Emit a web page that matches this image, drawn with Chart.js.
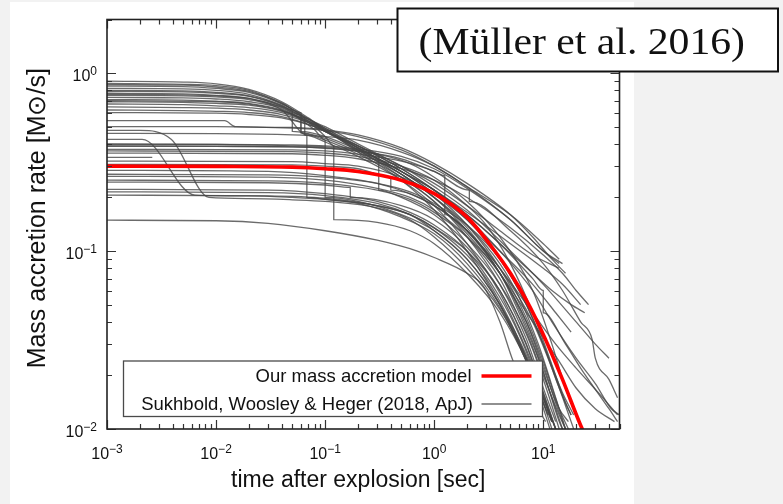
<!DOCTYPE html>
<html>
<head>
<meta charset="utf-8">
<script src="https://cdn.jsdelivr.net/npm/chart.js@4.4.0/dist/chart.umd.min.js"></script>
<style>
  html,body{margin:0;padding:0;background:#f2f2f2;}
  canvas{display:block;}
</style>
</head>
<body>
<canvas id="c" width="783" height="504"></canvas>
<script>
// ---------------- DATA ----------------
const modelTimes = [0.001, 0.01, 0.05, 0.1, 0.2, 0.5, 1, 2, 3.6, 5, 7, 10, 15, 22, 27];
const modelRates = [0.3, 0.299, 0.296, 0.29, 0.28, 0.25, 0.21, 0.155, 0.1, 0.075, 0.053, 0.034, 0.019, 0.0105, 0.008];

// Sukhbold, Woosley & Heger (2018) curves: [time (s), rate (Msun/s)]
const sukhboldTop = [
  [[0.001,0.90],[0.005,0.89],[0.01,0.87],[0.02,0.81],[0.04,0.69],[0.07,0.56],[0.1,0.48],[0.2,0.37],[0.5,0.27],[1,0.2],[2,0.13],[4,0.075],[7,0.038],[10,0.021],[14,0.011],[15,0.01]],
  [[0.001,0.875],[0.005,0.865],[0.01,0.85],[0.02,0.8],[0.04,0.68],[0.06,0.6],[0.06,0.46],[0.1,0.42],[0.2,0.35],[0.5,0.26],[1,0.19],[2,0.12],[4,0.065],[7,0.032],[10,0.017],[13,0.011]],
  [[0.001,0.86],[0.005,0.855],[0.01,0.835],[0.02,0.79],[0.04,0.675],[0.07,0.55],[0.1,0.49],[0.2,0.39],[0.5,0.29],[1,0.22],[2,0.16],[4,0.11],[8,0.075],[12,0.06],[18,0.05],[24,0.045]],
  [[0.001,0.845],[0.005,0.84],[0.01,0.82],[0.02,0.78],[0.04,0.67],[0.08,0.53],[0.1,0.5],[0.2,0.4],[0.5,0.3],[1,0.24],[2,0.18],[4,0.13],[8,0.095],[14,0.08]],
  [[0.001,0.82],[0.005,0.815],[0.01,0.8],[0.02,0.76],[0.04,0.66],[0.05,0.62],[0.05,0.47],[0.1,0.43],[0.2,0.36],[0.5,0.27],[1,0.2],[2,0.14],[4,0.085],[6,0.055],[9,0.03],[13,0.015],[16,0.01]],
  [[0.001,0.80],[0.005,0.795],[0.01,0.78],[0.02,0.745],[0.04,0.655],[0.07,0.54],[0.1,0.48],[0.2,0.36],[0.5,0.25],[1,0.17],[2,0.1],[4,0.05],[7,0.024],[10,0.014],[12,0.011]],
  [[0.001,0.79],[0.005,0.785],[0.01,0.77],[0.02,0.74],[0.04,0.65],[0.07,0.55],[0.1,0.49],[0.2,0.38],[0.5,0.28],[1,0.22],[2,0.165],[5,0.11],[10,0.08],[15,0.065],[22,0.05]],
  [[0.001,0.77],[0.005,0.765],[0.01,0.75],[0.02,0.72],[0.04,0.64],[0.065,0.56],[0.065,0.45],[0.1,0.41],[0.2,0.34],[0.5,0.25],[1,0.18],[2,0.11],[4,0.058],[7,0.028],[10,0.016],[13,0.01]],
  [[0.001,0.76],[0.005,0.755],[0.01,0.745],[0.02,0.72],[0.04,0.645],[0.06,0.58],[0.06,0.47],[0.1,0.44],[0.2,0.37],[0.5,0.28],[1,0.21],[2,0.14],[4,0.08],[7,0.042],[10,0.024],[14,0.013],[17,0.01]],
  [[0.001,0.75],[0.005,0.745],[0.01,0.735],[0.02,0.71],[0.04,0.62],[0.068,0.45],[0.068,0.2],[0.1,0.195],[0.2,0.185],[0.5,0.155],[1,0.125],[2,0.085],[4,0.048],[7,0.024],[10,0.014],[12,0.01]],
  [[0.001,0.73],[0.005,0.725],[0.01,0.715],[0.02,0.69],[0.04,0.63],[0.08,0.48],[0.1,0.42],[0.1,0.2],[0.2,0.19],[0.5,0.16],[1,0.13],[2,0.09],[4,0.05],[7,0.025],[10,0.015],[13,0.01]],
  [[0.001,0.71],[0.005,0.705],[0.01,0.695],[0.02,0.675],[0.04,0.62],[0.08,0.5],[0.1,0.44],[0.12,0.39],[0.12,0.15],[0.3,0.145],[0.6,0.13],[1,0.11],[2,0.075],[4,0.045],[7,0.024],[9,0.016],[11.5,0.01]],
  [[0.001,0.70],[0.01,0.69],[0.02,0.67],[0.04,0.615],[0.08,0.515],[0.1,0.475],[0.2,0.39],[0.5,0.29],[1,0.22],[2,0.155],[4,0.1],[8,0.06],[12,0.04],[20,0.025],[30,0.018],[42,0.013],[50,0.012]],
  [[0.001,0.69],[0.005,0.685],[0.01,0.675],[0.02,0.66],[0.04,0.61],[0.08,0.52],[0.1,0.48],[0.2,0.38],[0.5,0.28],[1,0.21],[2,0.15],[4,0.1],[8,0.065],[13,0.045],[18,0.035]],
  [[0.001,0.67],[0.005,0.665],[0.01,0.655],[0.02,0.64],[0.04,0.6],[0.08,0.51],[0.1,0.47],[0.2,0.37],[0.5,0.26],[1,0.19],[2,0.125],[4,0.075],[8,0.04],[14,0.024],[20,0.017],[30,0.013],[45,0.011]],
  [[0.001,0.645],[0.005,0.64],[0.01,0.635],[0.02,0.62],[0.04,0.585],[0.08,0.51],[0.1,0.47],[0.2,0.38],[0.5,0.28],[1,0.22],[2,0.16],[4,0.11],[8,0.07],[10,0.06],[10,0.045],[16,0.03],[22,0.022],[40,0.013],[48,0.011]],
  [[0.001,0.62],[0.005,0.615],[0.01,0.61],[0.02,0.6],[0.04,0.57],[0.08,0.5],[0.1,0.47],[0.2,0.39],[0.5,0.3],[1,0.23],[2,0.17],[5,0.1],[10,0.065],[20,0.04],[30,0.03],[40,0.025]],
  [[0.001,0.60],[0.01,0.595],[0.02,0.585],[0.04,0.56],[0.08,0.5],[0.1,0.47],[0.2,0.38],[0.5,0.27],[1,0.2],[2,0.135],[4,0.075],[7,0.04],[10,0.022],[14,0.013],[17,0.011]]
];

const sukhboldMid = [
  [[0.001,0.54],[0.012,0.54],[0.015,0.5],[0.05,0.495],[0.1,0.48],[0.2,0.45],[0.5,0.38],[1,0.31],[2,0.24],[5,0.16],[8,0.12],[12,0.09],[16,0.075]],
  [[0.001,0.50],[0.01,0.5],[0.05,0.49],[0.1,0.475],[0.2,0.44],[0.5,0.37],[1,0.3],[2,0.23],[5,0.15],[10,0.1],[15,0.085]],
  [[0.001,0.476],[0.002,0.476],[0.0039,0.424],[0.0086,0.2],[0.02,0.197],[0.05,0.194],[0.1,0.19],[0.3,0.175],[0.6,0.15],[1,0.12],[2,0.08],[4,0.047],[7,0.025],[10,0.015],[12,0.011]],
  [[0.001,0.458],[0.01,0.457],[0.05,0.45],[0.1,0.44],[0.2,0.42],[0.5,0.36],[1,0.3],[2,0.23],[5,0.16],[10,0.11],[14,0.09]],
  [[0.001,0.424],[0.0021,0.424],[0.0064,0.206],[0.02,0.204],[0.05,0.2],[0.1,0.195],[0.3,0.18],[0.6,0.16],[1,0.13],[2,0.09],[4,0.05],[7,0.026],[10,0.015],[13,0.01]],
  [[0.001,0.40],[0.05,0.395],[0.1,0.39],[0.2,0.375],[0.5,0.34],[1,0.29],[2,0.225],[5,0.15],[10,0.1],[14,0.085]],
  [[0.001,0.398],[0.01,0.397],[0.05,0.39],[0.1,0.385],[0.2,0.37],[0.31,0.35],[0.31,0.22],[0.5,0.2],[1,0.16],[2,0.11],[4,0.065],[7,0.035],[10,0.02],[14,0.012],[16,0.01]],
  [[0.001,0.39],[0.05,0.385],[0.1,0.378],[0.3,0.35],[0.6,0.31],[1,0.26],[2,0.19],[4,0.12],[8,0.06],[12,0.03],[16,0.017],[20,0.012]],
  [[0.001,0.388],[0.01,0.387],[0.05,0.385],[0.1,0.38],[0.2,0.365],[0.5,0.33],[1,0.28],[1.25,0.265],[1.25,0.16],[2,0.13],[4,0.08],[8,0.045],[13,0.03],[20,0.022],[32,0.016],[48,0.012]],
  [[0.001,0.373],[0.05,0.37],[0.1,0.365],[0.2,0.35],[0.5,0.32],[1,0.28],[2.1,0.22],[2.1,0.19],[5,0.13],[10,0.085],[15,0.06],[22,0.04],[28,0.032],[30,0.025],[40,0.019],[48,0.015]],
  [[0.001,0.365],[0.05,0.362],[0.1,0.355],[0.2,0.34],[0.5,0.3],[1,0.25],[2,0.18],[3,0.14],[5,0.085],[8,0.045],[12,0.023],[16,0.014],[18,0.012]],
  [[0.001,0.355],[0.05,0.352],[0.1,0.345],[0.2,0.33],[0.5,0.29],[1,0.25],[2,0.2],[5,0.135],[10,0.095],[15,0.075],[20,0.06],[26,0.05]],
  [[0.001,0.336],[0.0026,0.336]]
];

const sukhboldLow = [
  [[0.001,0.32],[0.05,0.318],[0.1,0.31],[0.2,0.3],[0.5,0.26],[1,0.21],[2,0.15],[4,0.09],[7,0.05],[10,0.03],[15,0.016],[19,0.012]],
  [[0.001,0.307],[0.05,0.305],[0.1,0.3],[0.2,0.29],[0.4,0.26],[0.4,0.22],[1,0.18],[2,0.13],[4,0.08],[8,0.04],[12,0.022],[18,0.011],[19,0.01]],
  [[0.001,0.284],[0.03,0.28],[0.1,0.265],[0.3,0.24],[0.6,0.21],[1,0.18],[2,0.13],[4,0.075],[6,0.045],[9,0.025],[12,0.015],[15,0.01]],
  [[0.001,0.27],[0.03,0.268],[0.1,0.26],[0.3,0.24],[0.6,0.215],[1,0.185],[2,0.14],[4,0.09],[7,0.05],[10,0.03],[14,0.017],[18,0.012]],
  [[0.001,0.263],[0.03,0.26],[0.1,0.25],[0.3,0.225],[0.6,0.2],[1,0.17],[2,0.12],[4,0.07],[6,0.042],[8,0.028],[11,0.016],[14,0.01]],
  [[0.001,0.25],[0.03,0.248],[0.1,0.24],[0.3,0.22],[0.6,0.195],[1,0.165],[2,0.12],[4,0.075],[7,0.04],[10,0.023],[13,0.014],[16,0.01]],
  [[0.001,0.244],[0.03,0.242],[0.1,0.235],[0.17,0.228],[0.17,0.2],[0.5,0.18],[1,0.15],[2,0.105],[4,0.06],[6,0.037],[8,0.024],[10,0.016],[13,0.01]],
  [[0.001,0.222],[0.03,0.22],[0.1,0.21],[0.3,0.19],[0.6,0.165],[1,0.14],[2,0.1],[4,0.055],[6,0.034],[8,0.022],[10,0.015],[12,0.011]],
  [[0.001,0.215],[0.03,0.213],[0.1,0.205],[0.3,0.185],[0.6,0.16],[1,0.135],[2,0.1],[4,0.06],[7,0.03],[9,0.019],[12,0.011]],
  [[0.001,0.206],[0.03,0.204],[0.1,0.198],[0.3,0.18],[0.6,0.16],[1,0.135],[2,0.095],[3,0.07],[5,0.04],[7,0.025],[9,0.017],[11,0.012]],
  [[0.001,0.149],[0.01,0.148],[0.03,0.143],[0.1,0.13],[0.3,0.115],[0.7,0.1],[1,0.092],[2,0.075],[2.85,0.063],[4,0.04],[5.3,0.024],[7,0.017],[10.5,0.011]]
];

const xTickExponents = [-3, -2, -1, 0, 1];
const yTickExponents = [-2, -1, 0];
const legendLabels = ['Our mass accretion model', 'Sukhbold, Woosley & Heger (2018, ApJ)'];
const xTitle = 'time after explosion [sec]';
const yTitle = 'Mass accretion rate [M\u2299/s]';
const boxTitle = '(M\u00fcller et al. 2016)';

// ---------------- STYLE ----------------
const GRAY = 'rgba(70,70,70,0.8)';
const RED = '#ff0000';
const SANS = '"Liberation Sans", Arial, sans-serif';

const datasets = [{
  label: legendLabels[0],
  data: modelTimes.map((t, i) => ({x: t, y: modelRates[i]})),
  borderColor: RED, borderWidth: 3.6, pointRadius: 0, fill: false,
  cubicInterpolationMode: 'monotone'
}];
[...sukhboldTop, ...sukhboldMid, ...sukhboldLow].forEach(c => {
  datasets.push({
    label: legendLabels[1],
    data: c.map(p => ({x: p[0], y: p[1]})),
    borderColor: GRAY, borderWidth: 1.3, pointRadius: 0, fill: false,
    cubicInterpolationMode: 'monotone'
  });
});

function powLabel(ctx, exp, x, y, mode) {
  const base = '10', e = (exp < 0 ? '\u2212' : '') + Math.abs(exp);
  ctx.font = '16px ' + SANS;
  const wb = ctx.measureText(base).width;
  ctx.font = '12px ' + SANS;
  const we = ctx.measureText(e).width;
  const tot = wb + we;
  let sx, by, ey;
  if (mode === 'x') { sx = x - tot / 2; by = y + 29.5; ey = y + 24; }
  else { sx = x - tot; by = y + 7.5; ey = y + 2; }
  ctx.textAlign = 'left';
  ctx.font = '16px ' + SANS; ctx.fillText(base, sx, by);
  ctx.font = '12px ' + SANS; ctx.fillText(e, sx + wb, ey);
}

const deco = {
  id: 'deco',
  beforeDraw(chart) {
    const c = chart.ctx;
    c.save(); c.fillStyle = '#ffffff'; c.fillRect(10, 2, 624, 502); c.restore();
  },
  afterDatasetsDraw(chart) {
    const ctx = chart.ctx, a = chart.chartArea, xs = chart.scales.x, ys = chart.scales.y;
    ctx.save();
    // legend box
    const lx0 = a.left + 16.5, lx1 = a.left + 435.5, ly0 = a.bottom - 68, ly1 = a.bottom - 12.5;
    ctx.fillStyle = '#fff'; ctx.fillRect(lx0, ly0, lx1 - lx0, ly1 - ly0);
    ctx.strokeStyle = '#4a4a4a'; ctx.lineWidth = 1.3; ctx.strokeRect(lx0, ly0, lx1 - lx0, ly1 - ly0);
    ctx.fillStyle = '#111'; ctx.font = '18.5px ' + SANS; ctx.textAlign = 'right'; ctx.textBaseline = 'alphabetic';
    ctx.fillText(legendLabels[0], lx1 - 71, ly0 + 21);
    ctx.fillText(legendLabels[1], lx1 - 69.5, ly0 + 49);
    ctx.lineCap = 'butt';
    ctx.strokeStyle = RED; ctx.lineWidth = 3.6;
    ctx.beginPath(); ctx.moveTo(lx1 - 61, ly0 + 15); ctx.lineTo(lx1 - 11, ly0 + 15); ctx.stroke();
    ctx.strokeStyle = GRAY; ctx.lineWidth = 1.3;
    ctx.beginPath(); ctx.moveTo(lx1 - 61, ly0 + 43); ctx.lineTo(lx1 - 11, ly0 + 43); ctx.stroke();

    // ticks (inward, all sides)
    ctx.strokeStyle = '#333'; ctx.lineWidth = 1.2;
    ctx.beginPath();
    for (let d = -3; d <= 1; d++) {
      for (let m = 1; m <= 9; m++) {
        const v = m * Math.pow(10, d);
        if (v > xs.max * 1.0001) break;
        const px = Math.round(xs.getPixelForValue(v)) + 0.5;
        const L = m === 1 ? 9 : 5;
        ctx.moveTo(px, a.bottom); ctx.lineTo(px, a.bottom - L);
        ctx.moveTo(px, a.top); ctx.lineTo(px, a.top + L);
      }
    }
    for (let d = -2; d <= 0; d++) {
      for (let m = 1; m <= 9; m++) {
        const v = m * Math.pow(10, d);
        if (v > ys.max * 1.0001) break;
        const py = Math.round(ys.getPixelForValue(v)) + 0.5;
        const L = m === 1 ? 9 : 5;
        ctx.moveTo(a.left, py); ctx.lineTo(a.left + L, py);
        ctx.moveTo(a.right, py); ctx.lineTo(a.right - L, py);
      }
    }
    ctx.stroke();
    // frame
    ctx.strokeStyle = '#222'; ctx.lineWidth = 1.6;
    ctx.strokeRect(a.left, a.top, a.right - a.left, a.bottom - a.top);

    // tick labels
    ctx.fillStyle = '#111';
    xTickExponents.forEach(e => powLabel(ctx, e, xs.getPixelForValue(Math.pow(10, e)), a.bottom, 'x'));
    yTickExponents.forEach(e => powLabel(ctx, e, a.left - 10, ys.getPixelForValue(Math.pow(10, e)), 'y'));

    // axis titles
    ctx.font = '23px ' + SANS; ctx.textAlign = 'center'; ctx.fillStyle = '#111';
    ctx.fillText(xTitle, (a.left + a.right) / 2 - 5, a.bottom + 58);
    ctx.save();
    ctx.translate(45, (a.top + a.bottom) / 2 - 6);
    ctx.rotate(-Math.PI / 2);
    ctx.font = '25px ' + SANS;
    ctx.fillText(yTitle, 0, 0);
    ctx.restore();

    // citation box
    ctx.fillStyle = '#fff'; ctx.fillRect(397.5, 8.5, 380.5, 63);
    ctx.strokeStyle = '#111'; ctx.lineWidth = 2; ctx.strokeRect(397.5, 8.5, 380.5, 63);
    ctx.font = '38px "Liberation Serif", "Times New Roman", serif';
    const w = ctx.measureText(boxTitle).width;
    ctx.save();
    ctx.translate(418.5, 54);
    ctx.scale(326.5 / w, 1);
    ctx.textAlign = 'left'; ctx.fillStyle = '#111';
    ctx.fillText(boxTitle, 0, 0);
    ctx.restore();
    ctx.restore();
  }
};

new Chart(document.getElementById('c'), {
  type: 'line',
  data: {datasets},
  options: {
    responsive: false,
    animation: false,
    devicePixelRatio: 1,
    layout: {padding: {left: 107, right: 163.5, top: 19.5, bottom: 75}},
    plugins: {legend: {display: false}, tooltip: {enabled: false}},
    scales: {
      x: {type: 'logarithmic', min: 0.001, max: 50, display: false},
      y: {type: 'logarithmic', min: 0.01, max: 2, display: false}
    },
    elements: {line: {borderJoinStyle: 'round', borderCapStyle: 'butt'}}
  },
  plugins: [deco]
});
</script>
</body>
</html>
